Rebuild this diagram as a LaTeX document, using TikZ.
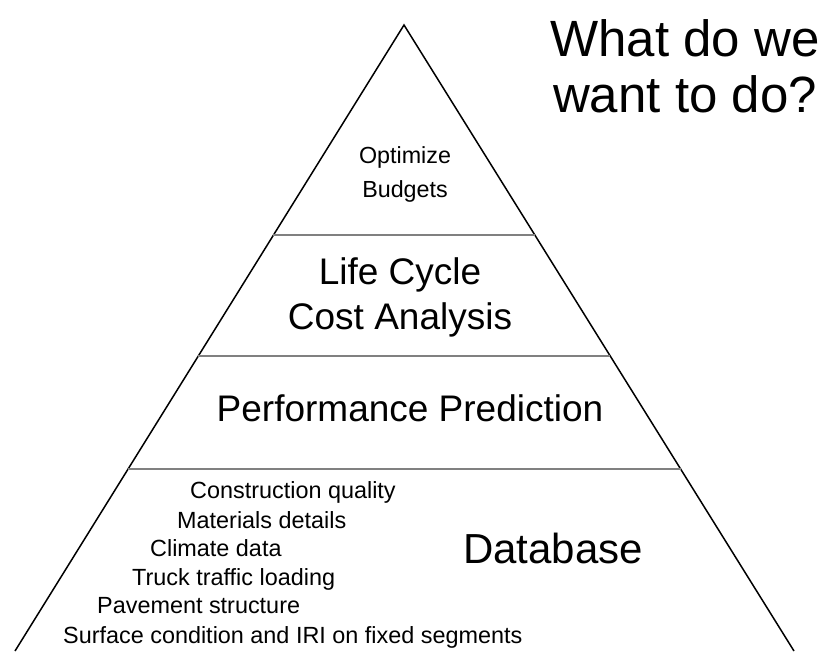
\documentclass[tikz,border=0pt]{standalone}
\usepackage{fontspec}
\setmainfont{Liberation Sans}
\usetikzlibrary{calc}
\begin{document}
\begin{tikzpicture}[x=1pt, y=-1pt,
  outline/.style={draw=black, line width=1.5pt},
  divider/.style={draw=black!50, line width=2.6pt},
  toptext/.style={inner sep=0pt, align=center, font=\fontsize{23.3}{34}\selectfont},
  leveltext/.style={inner sep=0pt, align=center, font=\fontsize{37}{45}\selectfont},
  itemtext/.style={inner sep=0pt, anchor=base west, font=\fontsize{23.4}{28}\selectfont},
  basetext/.style={inner sep=0pt, anchor=base, font=\fontsize{42}{50}\selectfont},
  questiontext/.style={inner sep=0pt, align=center, font=\fontsize{51}{56}\selectfont}]
  \useasboundingbox (0,0) rectangle (826,651);
  \coordinate (Apex) at (404,25);
  \coordinate (BaseL) at (15,651);
  \coordinate (BaseR) at (794,651);
  \draw [outline] (BaseL) -- (Apex) -- (BaseR);
  \foreach \t/\n in {0.3355/1, 0.5288/2, 0.7093/3}
    \draw [divider] ($(Apex)!\t!(BaseL)$) coordinate (Left-\n) -- ($(Apex)!\t!(BaseR)$) coordinate (Right-\n);

  \node [toptext] (Budgets) at (405,174) {Optimize\\Budgets};
  \node [leveltext] (LCCA) at (400,297) {Life Cycle\\Cost Analysis};
  \node [leveltext, anchor=base] (Prediction) at (410,421) {Performance Prediction};
  \node [basetext] (Database) at (553,563) {Database};

  \node [itemtext] (Item-1) at (190,498) {Construction quality};
  \node [itemtext] (Item-2) at (177,528) {Materials details};
  \node [itemtext] (Item-3) at (150,556) {Climate data};
  \node [itemtext] (Item-4) at (132,585) {Truck traffic loading};
  \node [itemtext] (Item-5) at (97,613) {Pavement structure};
  \node [itemtext] (Item-6) at (63,643) {Surface condition and IRI on fixed segments};

  \node [questiontext] (Question) at (685,66) {What do we\\want to do?};
\end{tikzpicture}
\end{document}
